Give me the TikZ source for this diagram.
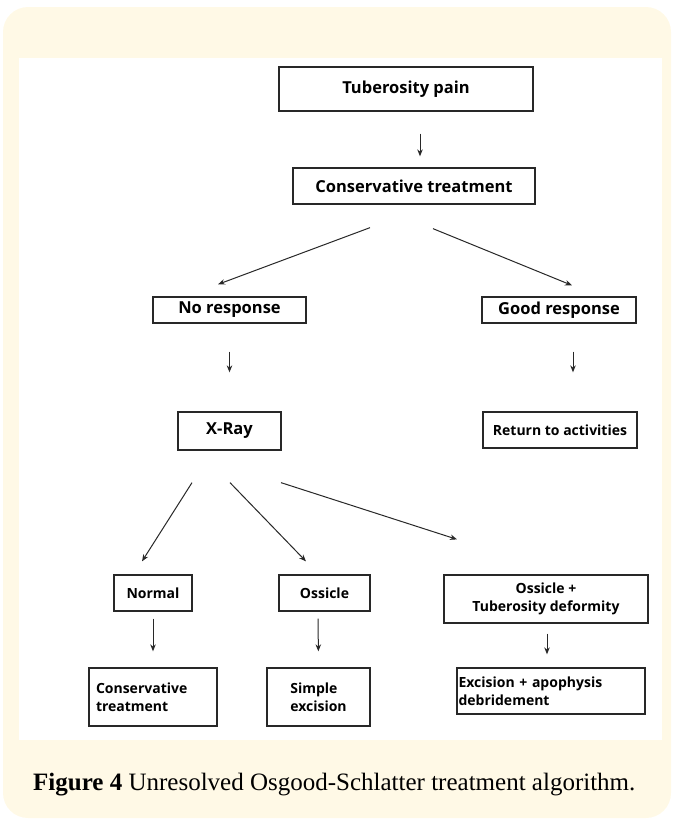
\documentclass[tikz,border=0pt]{standalone}
\usepackage{fontspec}
\setmainfont{Open Sans}
\newfontfamily\capfont{Liberation Serif}
\usepackage{tikz}
\usetikzlibrary{arrows,arrows.meta,shapes,positioning}
\usepackage{xcolor}
\definecolor{oscream}{RGB}{255,249,230}
\definecolor{osline}{RGB}{40,40,40}
\tikzstyle{arrow} = [-{Stealth[length=7pt,width=5.5pt]},color=osline,line width=1pt]

\begin{document}
\begin{tikzpicture}[x=1pt, y=-1pt,
    step box/.style={rectangle, draw=osline, line width=1.3pt, fill=white, inner sep=0pt, font=\bfseries\fontsize{16.5}{19}\selectfont},
    leaf box/.style={step box, font=\bfseries\fontsize{14}{18}\selectfont}]

% Background
\useasboundingbox (0,0) rectangle (674,819);
\fill[oscream, rounded corners=25pt] (3,7) rectangle (671,818);
\fill[white] (19,58) rectangle (662,740);

% Main steps
\node[step box, minimum width=254pt, minimum height=44pt] (pain) at (406,89) {Tuberosity pain};
\node[step box, minimum width=242pt, minimum height=36pt] (cons) at (414,186) {Conservative treatment};

% Responses
\node[step box, minimum width=153pt, minimum height=26pt] (nores) at (229.5,310) {No response};
\node[step box, minimum width=154pt, minimum height=26pt] (goodres) at (559,310) {Good response};
\node[step box, minimum width=103pt, minimum height=38pt] (xray) at (229.5,431) {X-Ray};
\node[leaf box, minimum width=154pt, minimum height=36pt] (return) at (560,430) {Return to activities};

% X-Ray findings
\node[leaf box, minimum width=78pt, minimum height=36pt] (normal) at (153,593) {Normal};
\node[leaf box, minimum width=91pt, minimum height=36pt] (ossicle) at (324.5,593) {Ossicle};
\node[leaf box, minimum width=204pt, minimum height=48pt, align=center] (deform) at (546,599) {Ossicle +\\ Tuberosity deformity};

% Treatments
\node[leaf box, minimum width=128pt, minimum height=58pt, text width=114pt, align=left] (constreat) at (153,697) {Conservative\\treatment};
\node[leaf box, minimum width=103pt, minimum height=58pt, align=left] (simple) at (318.5,697) {Simple\\excision};
\node[leaf box, minimum width=188pt, minimum height=46pt, text width=185pt, align=left] (excision) at (551,691) {Excision + apophysis\\debridement};

% Connections
\draw[arrow, shorten <=22pt, shorten >=11pt] ([xshift=14pt]pain.south) -- ([xshift=6pt]cons.north);
\draw[arrow] ([xshift=-44pt, yshift=-23pt]cons.south) -- ([xshift=-11.5pt, yshift=12pt]nores.north);
\draw[arrow] ([xshift=19pt, yshift=-24pt]cons.south) -- ([xshift=13pt, yshift=11pt]goodres.north);

\draw[arrow, shorten <=28pt, shorten >=39pt] (nores.south) -- (xray.north);
\draw[arrow, shorten <=28pt, shorten >=39pt] ([xshift=14pt]goodres.south) -- ([xshift=13pt]return.north);

\draw[arrow] ([xshift=-37.5pt, yshift=-32pt]xray.south) -- ([xshift=-11pt, yshift=13pt]normal.north);
\draw[arrow] ([xshift=0.5pt, yshift=-32pt]xray.south) -- ([xshift=-18.5pt, yshift=13pt]ossicle.north);
\draw[arrow] ([xshift=51.5pt, yshift=-32pt]xray.south) -- ([xshift=-89pt, yshift=35pt]deform.north);

\draw[arrow, shorten <=7pt, shorten >=16pt] (normal.south) -- (constreat.north);
\draw[arrow, shorten <=7pt, shorten >=16pt] ([xshift=-6.5pt]ossicle.south) -- (simple.north);
\draw[arrow, shorten <=10pt, shorten >=13pt] ([xshift=1pt]deform.south) -- ([xshift=-4pt]excision.north);

% Caption
\node[anchor=base west, inner sep=0pt, font=\capfont\fontsize{25}{29}\selectfont] (caption) at (33,790) {\textbf{Figure 4} Unresolved Osgood-Schlatter treatment algorithm.};
\end{tikzpicture}
\end{document}
